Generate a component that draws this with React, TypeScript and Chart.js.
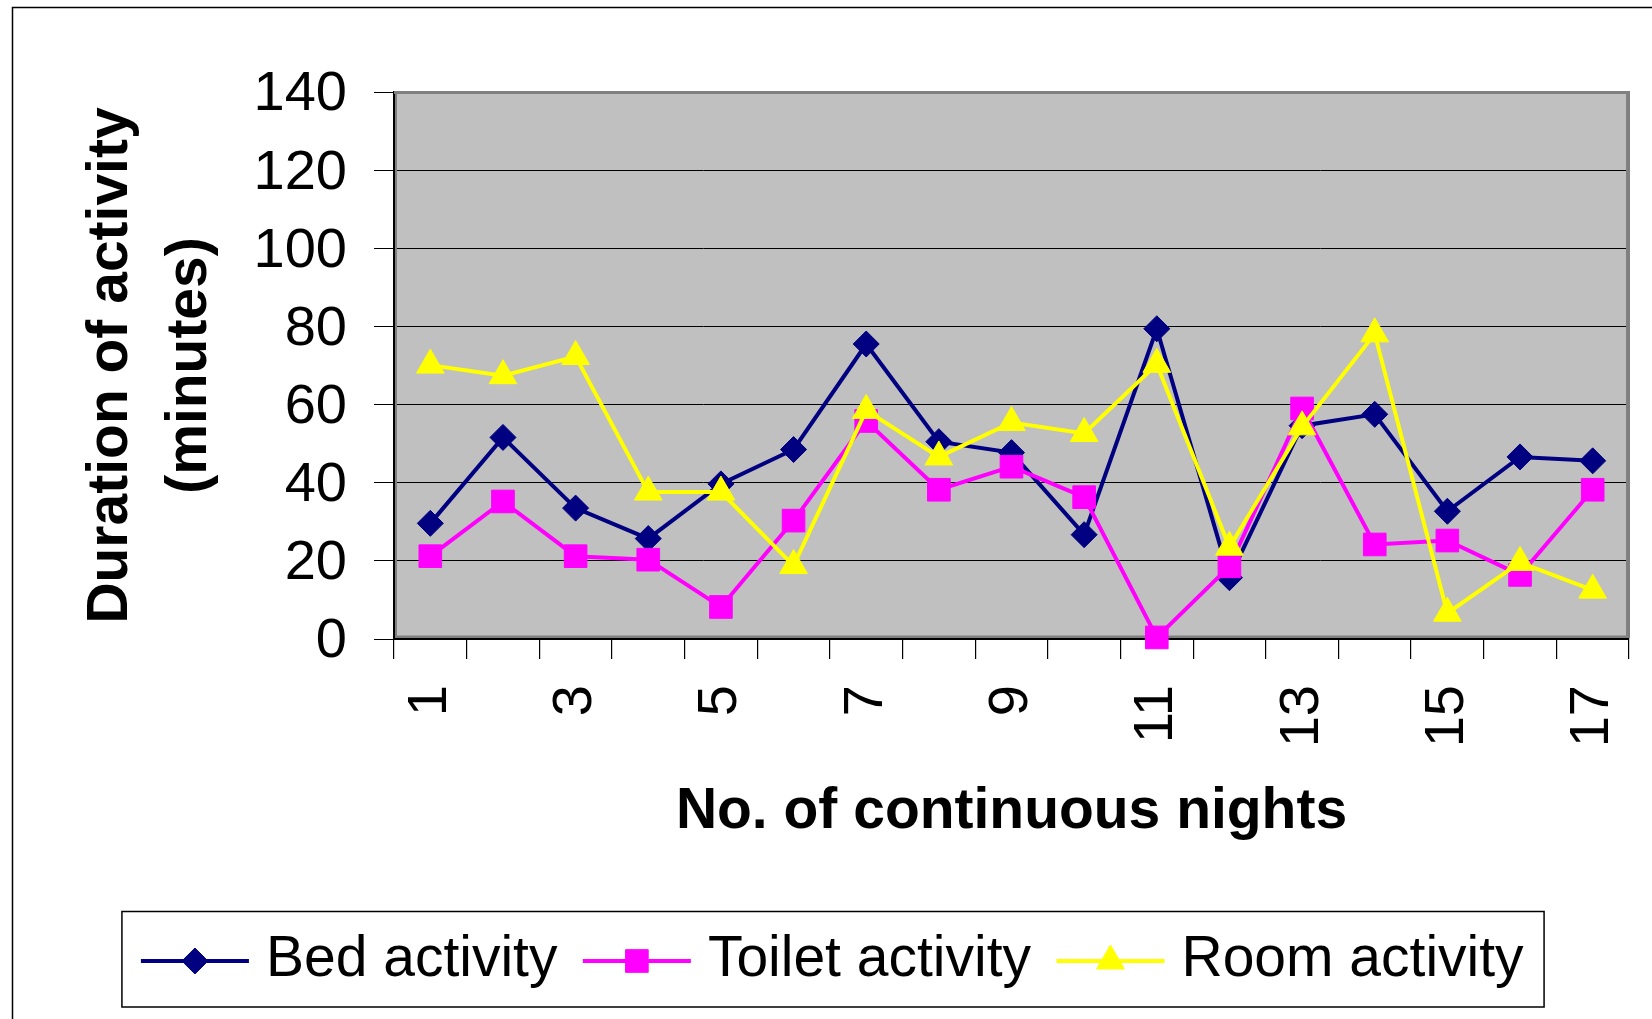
import React, { useEffect, useRef } from 'react';
import { Chart, registerables } from 'chart.js';

Chart.register(...registerables);

// ---------- data ----------
const nights = ['1', '2', '3', '4', '5', '6', '7', '8', '9', '10', '11', '12', '13', '14', '15', '16', '17'];
const bedActivity = [29.6, 51.6, 33.5, 25.7, 39.7, 48.5, 75.5, 50.5, 47.7, 26.7, 79.4, 15.7, 54.6, 57.5, 32.7, 46.6, 45.6];
const toiletActivity = [21.2, 35.2, 21.2, 20.3, 8.2, 30.3, 55.8, 38.2, 44.1, 36.3, 0.4, 18.6, 59.0, 24.2, 25.2, 16.4, 38.2];
const roomActivity = [70.1, 67.4, 72.3, 37.6, 37.6, 18.8, 58.5, 46.6, 55.4, 52.6, 70.3, 23.5, 54.3, 78.1, 6.6, 19.6, 12.5];
const seriesNames = ['Bed activity', 'Toilet activity', 'Room activity'];
const yMin = 0;
const yMax = 140;
const yStep = 20;
const xTitle = 'No. of continuous nights';
const yTitle = ['Duration of activity', '(minutes)'];

const FONT = '"Liberation Sans", Arial, Helvetica, sans-serif';

function drawMarker(ctx: CanvasRenderingContext2D, style: string, x: number, y: number, r: number, color: string) {
  ctx.save();
  ctx.fillStyle = color;
  ctx.strokeStyle = color;
  ctx.lineWidth = 1;
  ctx.beginPath();
  if (style === 'rectRot') {
    ctx.moveTo(x - r, y);
    ctx.lineTo(x, y - r);
    ctx.lineTo(x + r, y);
    ctx.lineTo(x, y + r);
    ctx.closePath();
  } else if (style === 'rect') {
    const s = r * Math.SQRT1_2;
    ctx.rect(x - s, y - s, 2 * s, 2 * s);
  } else {
    ctx.moveTo(x, y - r);
    ctx.lineTo(x + r * 0.866, y + r * 0.5);
    ctx.lineTo(x - r * 0.866, y + r * 0.5);
    ctx.closePath();
  }
  ctx.fill();
  ctx.stroke();
  ctx.restore();
}

const framePlugin = {
  id: 'frame',
  beforeDraw(chart: any) {
    const { ctx, chartArea: a } = chart;
    ctx.save();
    ctx.fillStyle = '#ffffff';
    ctx.fillRect(0, 0, chart.width, chart.height);
    ctx.strokeStyle = '#000000';
    ctx.lineWidth = 1.5;
    ctx.beginPath();
    ctx.moveTo(12.5, chart.height + 5);
    ctx.lineTo(12.5, 7.5);
    ctx.lineTo(chart.width + 5, 7.5);
    ctx.stroke();
    ctx.fillStyle = '#C0C0C0';
    ctx.fillRect(a.left, a.top, a.right - a.left, a.bottom - a.top);
    ctx.restore();
  },
  beforeDatasetsDraw(chart: any) {
    const { ctx, chartArea: a } = chart;
    ctx.save();
    ctx.fillStyle = '#808080';
    ctx.fillRect(a.left, a.top - 1, a.right - a.left + 1, 3);
    ctx.fillRect(a.right - 3, a.top - 1, 4, a.bottom - a.top);
    ctx.fillRect(a.left + 1, a.top, 2, a.bottom - a.top - 1);
    ctx.fillRect(a.left + 1, a.bottom - 3.5, a.right - a.left - 1, 2.5);
    ctx.restore();
  },
};

const legendPlugin = {
  id: 'boxLegend',
  afterDraw(chart: any) {
    const { ctx } = chart;
    const ds = chart.data.datasets;
    ctx.save();
    ctx.font = `57px ${FONT}`;
    const lineLen = 108;
    const gapLT = 17;
    const gapItem = 25.5;
    const padL = 19;
    const padR = 20.5;
    const widths = ds.map((d: any) => ctx.measureText(d.label).width);
    const total =
      padL + padR + ds.length * (lineLen + gapLT) + widths.reduce((s: number, w: number) => s + w, 0) + gapItem * (ds.length - 1);
    const cx = 833;
    const left = cx - total / 2;
    const top = 911.5;
    const bottom = 1007;
    ctx.strokeStyle = '#000000';
    ctx.lineWidth = 1.5;
    ctx.strokeRect(left, top, total, bottom - top);
    let x = left + padL;
    const y = 961;
    ds.forEach((d: any, i: number) => {
      ctx.strokeStyle = d.borderColor;
      ctx.lineWidth = 4;
      ctx.beginPath();
      ctx.moveTo(x, y);
      ctx.lineTo(x + lineLen, y);
      ctx.stroke();
      drawMarker(ctx, d.pointStyle, x + lineLen / 2, y, d.pointRadius, d.borderColor);
      x += lineLen + gapLT;
      ctx.fillStyle = '#000000';
      ctx.textAlign = 'left';
      ctx.textBaseline = 'middle';
      ctx.fillText(d.label, x, y - 1);
      x += widths[i] + gapItem;
    });
    ctx.restore();
  },
};

export default function App() {
  const canvasRef = useRef<HTMLCanvasElement | null>(null);

  useEffect(() => {
    if (!canvasRef.current) return;
    const chart = new Chart(canvasRef.current, {
      type: 'line',
      data: {
        labels: nights,
        datasets: [
          {
            label: seriesNames[0],
            data: bedActivity,
            borderColor: '#000080',
            backgroundColor: '#000080',
            borderWidth: 4,
            pointStyle: 'rectRot',
            pointRadius: 13,
            pointBorderWidth: 1,
            pointBackgroundColor: '#000080',
            pointBorderColor: '#000080',
            tension: 0,
            clip: false,
            order: 2,
          },
          {
            label: seriesNames[1],
            data: toiletActivity,
            borderColor: '#FF00FF',
            backgroundColor: '#FF00FF',
            borderWidth: 4,
            pointStyle: 'rect',
            pointRadius: 16,
            pointBorderWidth: 1,
            pointBackgroundColor: '#FF00FF',
            pointBorderColor: '#FF00FF',
            tension: 0,
            clip: false,
            order: 1,
          },
          {
            label: seriesNames[2],
            data: roomActivity,
            borderColor: '#FFFF00',
            backgroundColor: '#FFFF00',
            borderWidth: 4,
            pointStyle: 'triangle',
            pointRadius: 16,
            pointBorderWidth: 1,
            pointBackgroundColor: '#FFFF00',
            pointBorderColor: '#FFFF00',
            tension: 0,
            clip: false,
            order: 0,
          },
        ],
      } as any,
      options: {
        responsive: false,
        animation: false,
        layout: { padding: { left: 0, top: 92, right: 23, bottom: 172.8 } },
        plugins: {
          legend: { display: false },
          tooltip: { enabled: false },
        },
        scales: {
          x: {
            type: 'category',
            offset: true,
            afterFit: (scale: any) => {
              scale.height = 207.2;
              scale.paddingLeft = 0;
              scale.paddingRight = 0;
            },
            grid: {
              offset: true,
              drawOnChartArea: false,
              drawTicks: true,
              tickLength: 20,
              color: '#000000',
              lineWidth: 1.2,
            },
            border: { display: true, color: '#000000', width: 2 },
            ticks: {
              autoSkip: false,
              minRotation: 90,
              maxRotation: 90,
              padding: 26,
              color: '#000000',
              font: { family: FONT, size: 56 },
              callback: function (this: any, value: any, index: number) {
                return index % 2 === 0 ? this.getLabelForValue(value) : '';
              },
            },
            title: {
              display: true,
              text: xTitle,
              color: '#000000',
              padding: { top: 0, bottom: 0 },
              font: { family: FONT, size: 57, weight: 'bold', lineHeight: 1.2 },
            },
          },
          y: {
            min: yMin,
            max: yMax,
            afterFit: (scale: any) => {
              scale.width = 394;
              scale.paddingTop = 0;
              scale.paddingBottom = 0;
            },
            grid: {
              drawOnChartArea: true,
              drawTicks: true,
              tickLength: 20,
              color: '#000000',
              lineWidth: 1,
            },
            border: { display: true, color: '#000000', width: 2 },
            ticks: {
              stepSize: yStep,
              padding: 27,
              labelOffset: 3,
              color: '#000000',
              font: { family: FONT, size: 56 },
            },
            title: {
              display: true,
              text: yTitle,
              color: '#000000',
              padding: { top: 71.5, bottom: 0 },
              font: { family: FONT, size: 57, weight: 'bold', lineHeight: 1.386 },
            },
          },
        },
      } as any,
      plugins: [framePlugin, legendPlugin],
    });
    return () => chart.destroy();
  }, []);

  return (
    <div style={{ position: 'fixed', left: 0, top: 0, width: 1652, height: 1019, background: '#fff' }}>
      <canvas ref={canvasRef} width={1652} height={1019} style={{ display: 'block', width: 1652, height: 1019 }} />
    </div>
  );
}
